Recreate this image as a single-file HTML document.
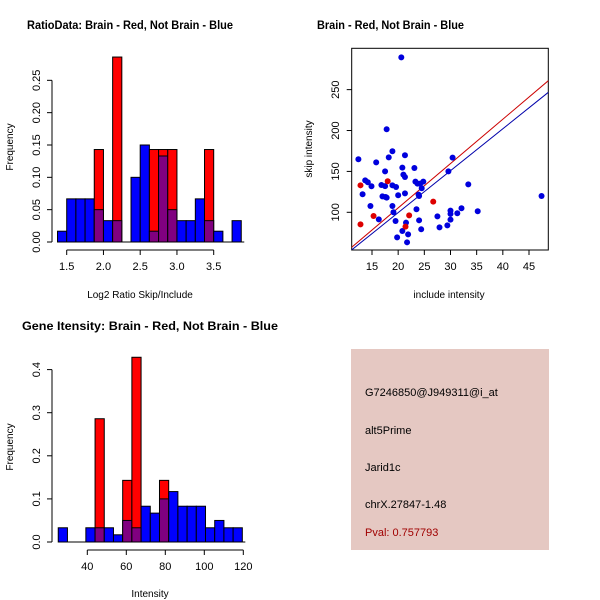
<!DOCTYPE html>
<html><head><meta charset="utf-8"><style>
body{margin:0;background:#fff;}
svg{display:block;font-family:"Liberation Sans",sans-serif;}
</style></head><body>
<svg id="s" width="600" height="600" viewBox="0 0 600 600">
<rect x="0" y="0" width="600" height="600" fill="#fff"/>
<text x="27" y="29" font-size="12" font-weight="bold" textLength="206" lengthAdjust="spacingAndGlyphs">RatioData: Brain - Red, Not Brain - Blue</text>
<text x="317" y="29" font-size="12" font-weight="bold" textLength="147" lengthAdjust="spacingAndGlyphs">Brain - Red, Not Brain - Blue</text>
<text x="22" y="330" font-size="12" font-weight="bold" textLength="256" lengthAdjust="spacingAndGlyphs">Gene Itensity: Brain - Red, Not Brain - Blue</text>
<rect x="351" y="349" width="198" height="201" fill="#e5c8c2"/>
<g font-size="11">
<text x="365" y="396">G7246850@J949311@i_at</text>
<text x="365" y="434">alt5Prime</text>
<text x="365" y="471">Jarid1c</text>
<text x="365" y="508">chrX.27847-1.48</text>
<text x="365" y="536" fill="#a00000">Pval: 0.757793</text>
</g>
</svg>
<script>
// ---- Ratio histogram data ----
const ratioEdgeStart = 1.375;
const ratioBinWidth = 0.125;
const ratioBlue = [0.0167,0.0667,0.0667,0.0667,0.05,0.033,0.033,0,0.1,0.15,0.0167,0.133,0.05,0.033,0.033,0.0667,0.033,0.0167,0,0.033];
const ratioRed  = [0,0,0,0,0.143,0,0.286,0,0,0,0.143,0.143,0.143,0,0,0,0.143,0,0,0];
const ratioXTicks = [1.5,2.0,2.5,3.0,3.5];
const ratioYTicks = [0,0.05,0.10,0.15,0.20,0.25];
const ratioYLabels = ["0.00","0.05","0.10","0.15","0.20","0.25"];
// ---- Intensity histogram data ----
const intEdgeStart = 25.1;
const intBinWidth = 4.72;
const intBlue = [0.033,0,0,0.033,0.033,0.033,0.0167,0.05,0.033,0.083,0.067,0.10,0.117,0.083,0.083,0.083,0.033,0.05,0.033,0.033];
const intRed  = [0,0,0,0,0.286,0,0,0.143,0.4286,0,0,0.143,0,0,0,0,0,0,0,0];
const intXTicks = [40,60,80,100,120];
const intYTicks = [0,0.1,0.2,0.3,0.4];
// ---- Scatter data ----
const blueX = [20.6,12.4,13.2,13.7,14.2,14.7,14.9,15.8,16.3,16.8,17,17.5,17.5,17.6,17.8,17.8,18.2,18.9,18.9,18.9,19.1,19.5,19.6,19.8,20,20.8,20.8,21,21.3,21.3,21.3,21.5,21.7,21.9,23.1,23.3,23.5,23.7,23.9,24,24,24.2,24.4,24.5,24.8,27.5,27.9,29.4,29.6,30,30,30,30.4,31.3,32.1,33.4,35.2,47.4];
const blueY = [289.5,164.8,122,139,136.7,107.7,131.8,161,91.4,133.4,119.5,150,132,118.7,201.5,118,167.2,174.6,133,107.7,100,89.4,131,69.4,120.8,154.6,77.2,146,143.2,169.7,123.2,87.3,63.3,73,154.2,137.5,103.7,135,121.6,120,90.2,135,79.2,129.4,137.5,95,81.6,84,150,102,98,91,166.8,98.8,104.9,134.2,101.3,120];
const redX = [12.8,12.8,15.3,18,21.4,22.1,26.7];
const redY = [133,85.3,95.5,138,82.5,96.3,113];
const redFit = [-3.0,5.42];
const blueFit = [-3.0,5.128];
const scXTicks = [15,20,25,30,35,40,45];
const scYTicks = [100,150,200,250];

const NS="http://www.w3.org/2000/svg";
const svg=document.getElementById('s');
function mk(tag,attrs,parent){const e=document.createElementNS(NS,tag);for(const k in attrs)e.setAttribute(k,attrs[k]);(parent||svg).appendChild(e);return e;}
function txt(x,y,s,rot,size,anchor){const t=mk('text',{x:x,y:y,'font-size':size||10,'text-anchor':anchor||'middle'});if(rot)t.setAttribute('transform','rotate(-90 '+x+' '+y+')');t.textContent=s;return t;}

function hist(cfg){
  const g=mk('g',{});
  
  
  const X=v=>cfg.x0+(v-cfg.xv0)*cfg.xs, Y=v=>cfg.y0-v*cfg.ys;
  for(let i=0;i<cfg.blue.length;i++){
    const a=cfg.start+i*cfg.w, b=a+cfg.w;
    const bv=cfg.blue[i], rv=cfg.red[i];
    const x1=X(a), wpx=X(b)-X(a);
    if(rv>0){
      const r=mk('rect',{x:x1,y:Y(rv),width:wpx,height:Y(0)-Y(rv),fill:'#ff0000',stroke:'#000','stroke-width':1},g);
      
      
    }
    if(bv>0){
      const c=rv>0?'#800080':'#0000ff';
      const r=mk('rect',{x:x1,y:Y(bv),width:wpx,height:Y(0)-Y(bv),fill:c,stroke:'#000','stroke-width':1},g);
      
      
      if(rv>0&&rv<bv){
        const r2=mk('rect',{x:x1,y:Y(bv),width:wpx,height:Y(rv)-Y(bv),fill:'#0000ff',stroke:'#000','stroke-width':1},g);
        
        
      }
    }
  }
  // baseline
  mk('line',{x1:X(cfg.start),x2:X(cfg.start+cfg.blue.length*cfg.w)+3,y1:Y(0),y2:Y(0),stroke:'#000'},g);
  // x axis
  const xa=mk('g',{},g);
  
  
  const ay=cfg.axY;
  mk('line',{x1:X(cfg.xt[0]),x2:X(cfg.xt[cfg.xt.length-1]),y1:ay,y2:ay,stroke:'#000'},xa);
  cfg.xt.forEach(v=>{mk('line',{x1:X(v),x2:X(v),y1:ay,y2:ay+5,stroke:'#000'},xa);txt(X(v),ay+20,cfg.xfmt(v),false,11).setAttribute('fill','#000');});
  // y axis
  const ya=mk('g',{},g);
  
  
  const ax=52;
  mk('line',{x1:ax,x2:ax,y1:Y(cfg.yt[0]),y2:Y(cfg.yt[cfg.yt.length-1]),stroke:'#000'},ya);
  cfg.yt.forEach((v,i)=>{mk('line',{x1:ax-5,x2:ax,y1:Y(v),y2:Y(v),stroke:'#000'},ya);txt(ax-12,Y(v),cfg.yl[i],true,11);});
  const yl=txt(13,cfg.ylabY,'Frequency',true,10);
  
  
  const xl=txt(cfg.xlabX,cfg.xlabY,cfg.xlab,false,10);
  
  
}
hist({name:'ratio-histogram',blue:ratioBlue,red:ratioRed,start:ratioEdgeStart,w:ratioBinWidth,
  x0:66.7,xv0:1.5,xs:73.5,y0:242,ys:646.7,axY:250,xt:ratioXTicks,xfmt:v=>v.toFixed(1),
  yt:ratioYTicks,yl:ratioYLabels,ylabY:147,xlabX:140,xlabY:298,xlab:'Log2 Ratio Skip/Include'});
hist({name:'intensity-histogram',blue:intBlue,red:intRed,start:intEdgeStart,w:intBinWidth,
  x0:87.3,xv0:40,xs:1.95,y0:542,ys:431,axY:550,xt:intXTicks,xfmt:v=>String(v),
  yt:intYTicks,yl:intYTicks.map(v=>v.toFixed(1)),ylabY:447,xlabX:150,xlabY:597,xlab:'Intensity'});

// scatter
(function(){
  const g=mk('g',{});
  
  
  const X=v=>372+(v-15)*5.233, Y=v=>212.3-(v-100)*0.8178;
  mk('rect',{x:351.7,y:48.3,width:196.6,height:201.7,fill:'none',stroke:'#000'},g);
  const clip=mk('clipPath',{id:'pc'},g);mk('rect',{x:351.7,y:48.3,width:196.6,height:201.7},clip);
  const lg=mk('g',{'clip-path':'url(#pc)'},g);
  const xa=11.1,xb=48.7;
  const rl=mk('line',{x1:X(xa),y1:Y(redFit[0]+redFit[1]*xa),x2:X(xb),y2:Y(redFit[0]+redFit[1]*xb),stroke:'#cc0000','stroke-width':1},lg);
  
  
  const bl=mk('line',{x1:X(xa),y1:Y(blueFit[0]+blueFit[1]*xa),x2:X(xb),y2:Y(blueFit[0]+blueFit[1]*xb),stroke:'#0000aa','stroke-width':1},lg);
  
  
  blueX.forEach((x,i)=>{const c=mk('circle',{cx:X(x),cy:Y(blueY[i]),r:3,fill:'#0000dd'},lg);
    
    });
  redX.forEach((x,i)=>{const c=mk('circle',{cx:X(x),cy:Y(redY[i]),r:3,fill:'#dd0000'},lg);
    
    });
  scXTicks.forEach(v=>{mk('line',{x1:X(v),x2:X(v),y1:250,y2:255,stroke:'#000'},g);txt(X(v),270,String(v),false,11);});
  scYTicks.forEach(v=>{mk('line',{x1:346.7,x2:351.7,y1:Y(v),y2:Y(v),stroke:'#000'},g);txt(339,Y(v),String(v),true,11);});
  const xl=txt(449,298,'include intensity',false,10);
  
  
  const yl=txt(312,149,'skip intensity',true,10);
  
  
})();
</script>
</body></html>
